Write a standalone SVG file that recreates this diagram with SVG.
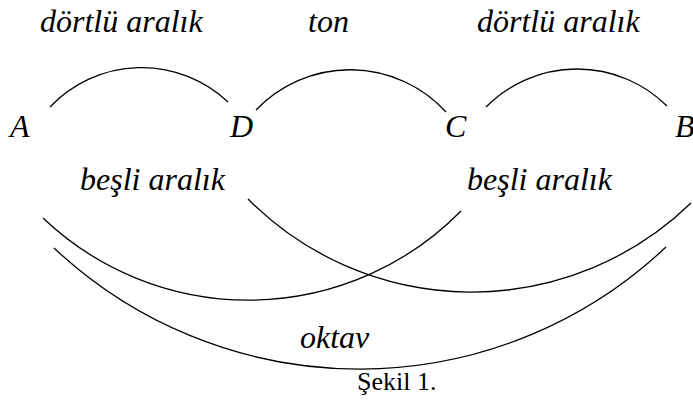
<svg xmlns="http://www.w3.org/2000/svg" width="693" height="403" viewBox="0 0 693 403">
<style>
.lbl{font-family:'Liberation Serif',serif;font-style:italic;font-size:32px;fill:#000}
.cap{font-family:'Liberation Serif',serif;font-size:26px;fill:#000}
.arc{fill:none;stroke:#000;stroke-width:1.3}
</style>
<rect width="693" height="403" fill="#fff"/>
<g id="connectors">
<path class="arc" d="M50,107 A126,126 0 0 1 228,102"/>
<path class="arc" d="M256,110 A130,130 0 0 1 446,112"/>
<path class="arc" d="M486,107 A128,128 0 0 1 667,106"/>
<path class="arc" d="M43,218 A298,298 0 0 0 461,211"/>
<path class="arc" d="M248,199 A315,315 0 0 0 691,203"/>
<path class="arc" d="M54,248 A446,446 0 0 0 666,247"/>
</g>
<g id="node-A"><text class="lbl" x="10" y="137">A</text></g>
<g id="node-D"><text class="lbl" x="230" y="137">D</text></g>
<g id="node-C"><text class="lbl" x="445" y="137">C</text></g>
<g id="node-B"><text class="lbl" x="675" y="137">B</text></g>
<g id="labels">
<text class="lbl" x="40" y="32">dörtlü aralık</text>
<text class="lbl" x="308" y="32">ton</text>
<text class="lbl" x="477" y="32">dörtlü aralık</text>
<text class="lbl" x="80" y="190">beşli aralık</text>
<text class="lbl" x="467" y="190">beşli aralık</text>
<text class="lbl" x="300" y="348">oktav</text>
<text class="cap" x="357" y="390">Şekil 1.</text>
</g>
</svg>
